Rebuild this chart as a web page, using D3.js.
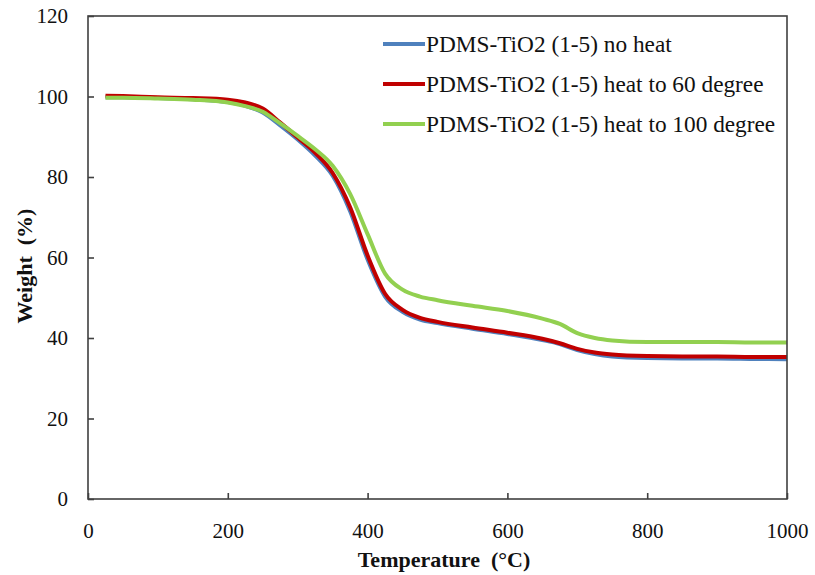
<!DOCTYPE html>
<html>
<head>
<meta charset="utf-8">
<script src="https://cdn.jsdelivr.net/npm/d3@7"></script>
<style>
  html, body { margin: 0; padding: 0; background: #fff; }
  svg { display: block; }
  svg text { font-family: "Liberation Serif", "Times New Roman", serif !important; fill: #111; }
</style>
</head>
<body>
<svg id="chart" width="815" height="575"></svg>
<script>
// Thermogravimetric curves: weight (%) against temperature (°C)
const temperatures = [25, 50, 100, 150, 200, 225, 250, 275, 300, 325, 350, 375, 400, 425, 450, 475, 500, 550, 600, 650, 675, 700, 725, 750, 800, 850, 900, 950, 1000];

const noHeat = [99.8, 99.8, 99.6, 99.3, 98.6, 97.7, 96.0, 92.8, 89.3, 85.3, 80.3, 71.5, 59.5, 50.3, 46.5, 44.6, 43.7, 42.3, 41.0, 39.5, 38.5, 37.0, 36.0, 35.4, 35.0, 34.9, 34.9, 34.8, 34.7];
const heat60 = [100.2, 100.1, 99.8, 99.6, 99.2, 98.5, 97.0, 93.5, 89.8, 86.0, 81.0, 72.5, 60.5, 51.0, 47.0, 45.0, 44.0, 42.6, 41.3, 39.8, 38.7, 37.3, 36.4, 35.9, 35.5, 35.4, 35.4, 35.3, 35.3];
const heat100 = [99.7, 99.7, 99.5, 99.2, 98.5, 97.6, 96.2, 93.3, 90.2, 86.9, 82.8, 75.8, 65.8, 56.0, 52.0, 50.3, 49.4, 48.0, 46.7, 44.8, 43.5, 41.2, 40.0, 39.4, 39.0, 39.0, 39.0, 38.9, 38.9];

const seriesNames = ["PDMS-TiO2 (1-5) no heat", "PDMS-TiO2 (1-5) heat to 60 degree", "PDMS-TiO2 (1-5) heat to 100 degree"];
const seriesColors = ["#4F81BD", "#C00000", "#92D050"];

const xTicks = [0, 200, 400, 600, 800, 1000];
const yTicks = [0, 20, 40, 60, 80, 100, 120];

const svg = d3.select("#chart");
const margin = { left: 88, right: 28, top: 16, bottom: 76 };
const W = 815, H = 575;
const plotW = W - margin.left - margin.right;
const plotH = H - margin.top - margin.bottom;

const x = d3.scaleLinear().domain([0, 1000]).range([margin.left, margin.left + plotW]);
const y = d3.scaleLinear().domain([0, 120]).range([margin.top + plotH, margin.top]);

const axisColor = "#404040";
const serif = "'Liberation Serif', 'Times New Roman', serif";

// Curves
const line = d3.line()
  .x(d => x(d[0]))
  .y(d => y(d[1]))
  .curve(d3.curveMonotoneX);

const allSeries = [noHeat, heat60, heat100];
const curves = svg.append("g");
allSeries.forEach((vals, i) => {
  curves.append("path")
    .datum(temperatures.map((t, k) => [t, vals[k]]))
    .attr("fill", "none")
    .attr("stroke", seriesColors[i])
    .attr("stroke-width", 4)
    .attr("stroke-linejoin", "round")
    .attr("stroke-linecap", "butt")
    .attr("d", line);
});

// Frame
svg.append("rect")
  .attr("x", margin.left)
  .attr("y", margin.top)
  .attr("width", plotW)
  .attr("height", plotH)
  .attr("fill", "none")
  .attr("stroke", axisColor)
  .attr("stroke-width", 1.6);

// Axes with inward ticks
const xAxis = d3.axisBottom(x).tickValues(xTicks).tickFormat(d3.format("d"))
  .tickSizeInner(-6).tickSizeOuter(0).tickPadding(24);
const gx = svg.append("g")
  .attr("transform", `translate(0,${margin.top + plotH})`)
  .call(xAxis);
gx.select(".domain").remove();
gx.selectAll(".tick line").attr("stroke", axisColor).attr("stroke-width", 1.6);
gx.selectAll(".tick text")
  .style("font-family", serif)
  .style("font-size", "21px")
  .attr("fill", "#111");

const yAxis = d3.axisLeft(y).tickValues(yTicks).tickFormat(d3.format("d"))
  .tickSizeInner(-6).tickSizeOuter(0).tickPadding(20);
const gy = svg.append("g")
  .attr("transform", `translate(${margin.left},0)`)
  .call(yAxis);
gy.select(".domain").remove();
gy.selectAll(".tick line").attr("stroke", axisColor).attr("stroke-width", 1.6);
gy.selectAll(".tick text")
  .style("font-family", serif)
  .style("font-size", "21px")
  .attr("fill", "#111");

// Axis titles
svg.append("text")
  .attr("x", 444)
  .attr("y", 567)
  .attr("text-anchor", "middle")
  .style("font-family", serif)
  .style("font-size", "22px")
  .style("font-weight", "bold")
  .style("white-space", "pre")
  .text("Temperature  (°C)");

svg.append("text")
  .attr("transform", `translate(32,${266}) rotate(-90)`)
  .attr("text-anchor", "middle")
  .style("font-family", serif)
  .style("font-size", "22px")
  .style("font-weight", "bold")
  .style("white-space", "pre")
  .text("Weight  (%)");

// Legend
const legend = svg.append("g");
seriesNames.forEach((name, i) => {
  const cy = 44 + i * 40;
  legend.append("line")
    .attr("x1", 383).attr("x2", 425)
    .attr("y1", cy).attr("y2", cy)
    .attr("stroke", seriesColors[i])
    .attr("stroke-width", 4);
  legend.append("text")
    .attr("x", 426)
    .attr("y", cy + 7.5)
    .style("font-family", serif)
    .style("font-size", "23.3px")
    .text(name);
});
</script>
</body>
</html>
